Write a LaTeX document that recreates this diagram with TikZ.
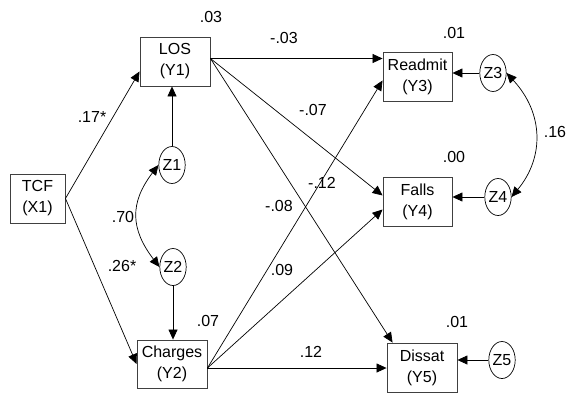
\documentclass[tikz,border=0pt]{standalone}
\usepackage{fontspec}
\setmainfont{Liberation Sans}
\usetikzlibrary{arrows.meta,shapes.geometric,calc}

\begin{document}
\begin{tikzpicture}[x=1pt,y=-1pt,
  var/.style={draw=black!75,line width=0.9pt,minimum width=70pt,minimum height=49pt,align=center,inner sep=0pt,font=\fontsize{16}{21}\selectfont},
  err/.style={draw,ellipse,line width=0.7pt,minimum width=26pt,minimum height=37pt,inner sep=0pt,font=\fontsize{16}{19}\selectfont},
  arr/.style={line width=0.7pt,-{Triangle[length=10pt,width=9pt]}},
  cov/.style={line width=0.7pt,{Triangle[length=10pt,width=9pt]}-{Triangle[length=10pt,width=9pt]}},
  coef/.style={font=\fontsize{16}{19}\selectfont,inner sep=0pt}]
\useasboundingbox (0,0) rectangle (569,393);

\node[var,minimum width=55pt] (tcf) at (37.5,198.5) {TCF\\(X1)};
\node[var] (los) at (175,61.5) {LOS\\(Y1)};
\node[var,minimum height=48pt] (chg) at (172,364) {Charges\\(Y2)};
\node[var,minimum width=69pt] (rdm) at (417.5,76.5) {Readmit\\(Y3)};
\node[var,minimum width=69pt] (fal) at (417.5,201.5) {Falls\\(Y4)};
\node[var] (dis) at (422,367.5) {Dissat\\(Y5)};

\node[err] (z1) at (172,165) {Z1};
\node[err] (z2) at (173,267) {Z2};
\node[err] (z3) at (493,73) {Z3};
\node[err] (z4) at (498,197) {Z4};
\node[err] (z5) at (502,360) {Z5};

\coordinate (losout) at ($(los.east)+(0,-3)$);
\coordinate (chgout) at ($(chg.east)+(0,4)$);

\draw[arr] (tcf.east) -- ($(los.west)+(0,10)$);
\draw[arr] (tcf.east) -- (chg.west);
\draw[arr] (z1.north) -- (z1.north |- los.south);
\draw[arr] (z2.south) -- (z2.south |- chg.north);
\draw[cov] (z1.west) .. controls ($(z1.west)+(-29,38)$) and ($(z2.west)+(-29,-38)$) .. (z2.west);

\draw[arr] (losout) -- (losout -| rdm.west);
\draw[arr] (losout) -- ($(fal.west)+(0,-6)$);
\draw[arr] (losout) -- ($(dis.north west)+(6,0)$);
\draw[arr] (chgout) -- ($(rdm.west)+(0,4)$);
\draw[arr] (chgout) -- ($(fal.west)+(0,8)$);
\draw[arr] (chgout) -- (chgout -| dis.west);

\draw[arr] (z3.west) -- (z3.west -| rdm.east);
\draw[arr] (z4.west) -- (z4.west -| fal.east);
\draw[arr] (z5.west) -- (z5.west -| dis.east);
\draw[cov] (z3.east) .. controls ($(z3.east)+(37,40)$) and ($(z4.east)+(33,-40)$) .. (z4.east);

\node[coef] (rsq1) at (211,17) {.03};
\node[coef] (rsq2) at (208,321) {.07};
\node[coef] (rsq3) at (454,33) {.01};
\node[coef] (rsq4) at (454,157) {.00};
\node[coef] (rsq5) at (457,322) {.01};
\node[coef] (b11) at (92,117) {.17*};
\node[coef] (b21) at (122,266) {.26*};
\node[coef] (c12) at (123,217) {.70};
\node[coef] (c34) at (555,132) {.16};
\node[coef] (b31) at (284,38) {-.03};
\node[coef] (b41) at (313,110) {-.07};
\node[coef] (b51) at (322,183) {-.12};
\node[coef] (b32) at (279,206) {-.08};
\node[coef] (b42) at (282,270) {.09};
\node[coef] (b52) at (311,352) {.12};
\end{tikzpicture}
\end{document}
